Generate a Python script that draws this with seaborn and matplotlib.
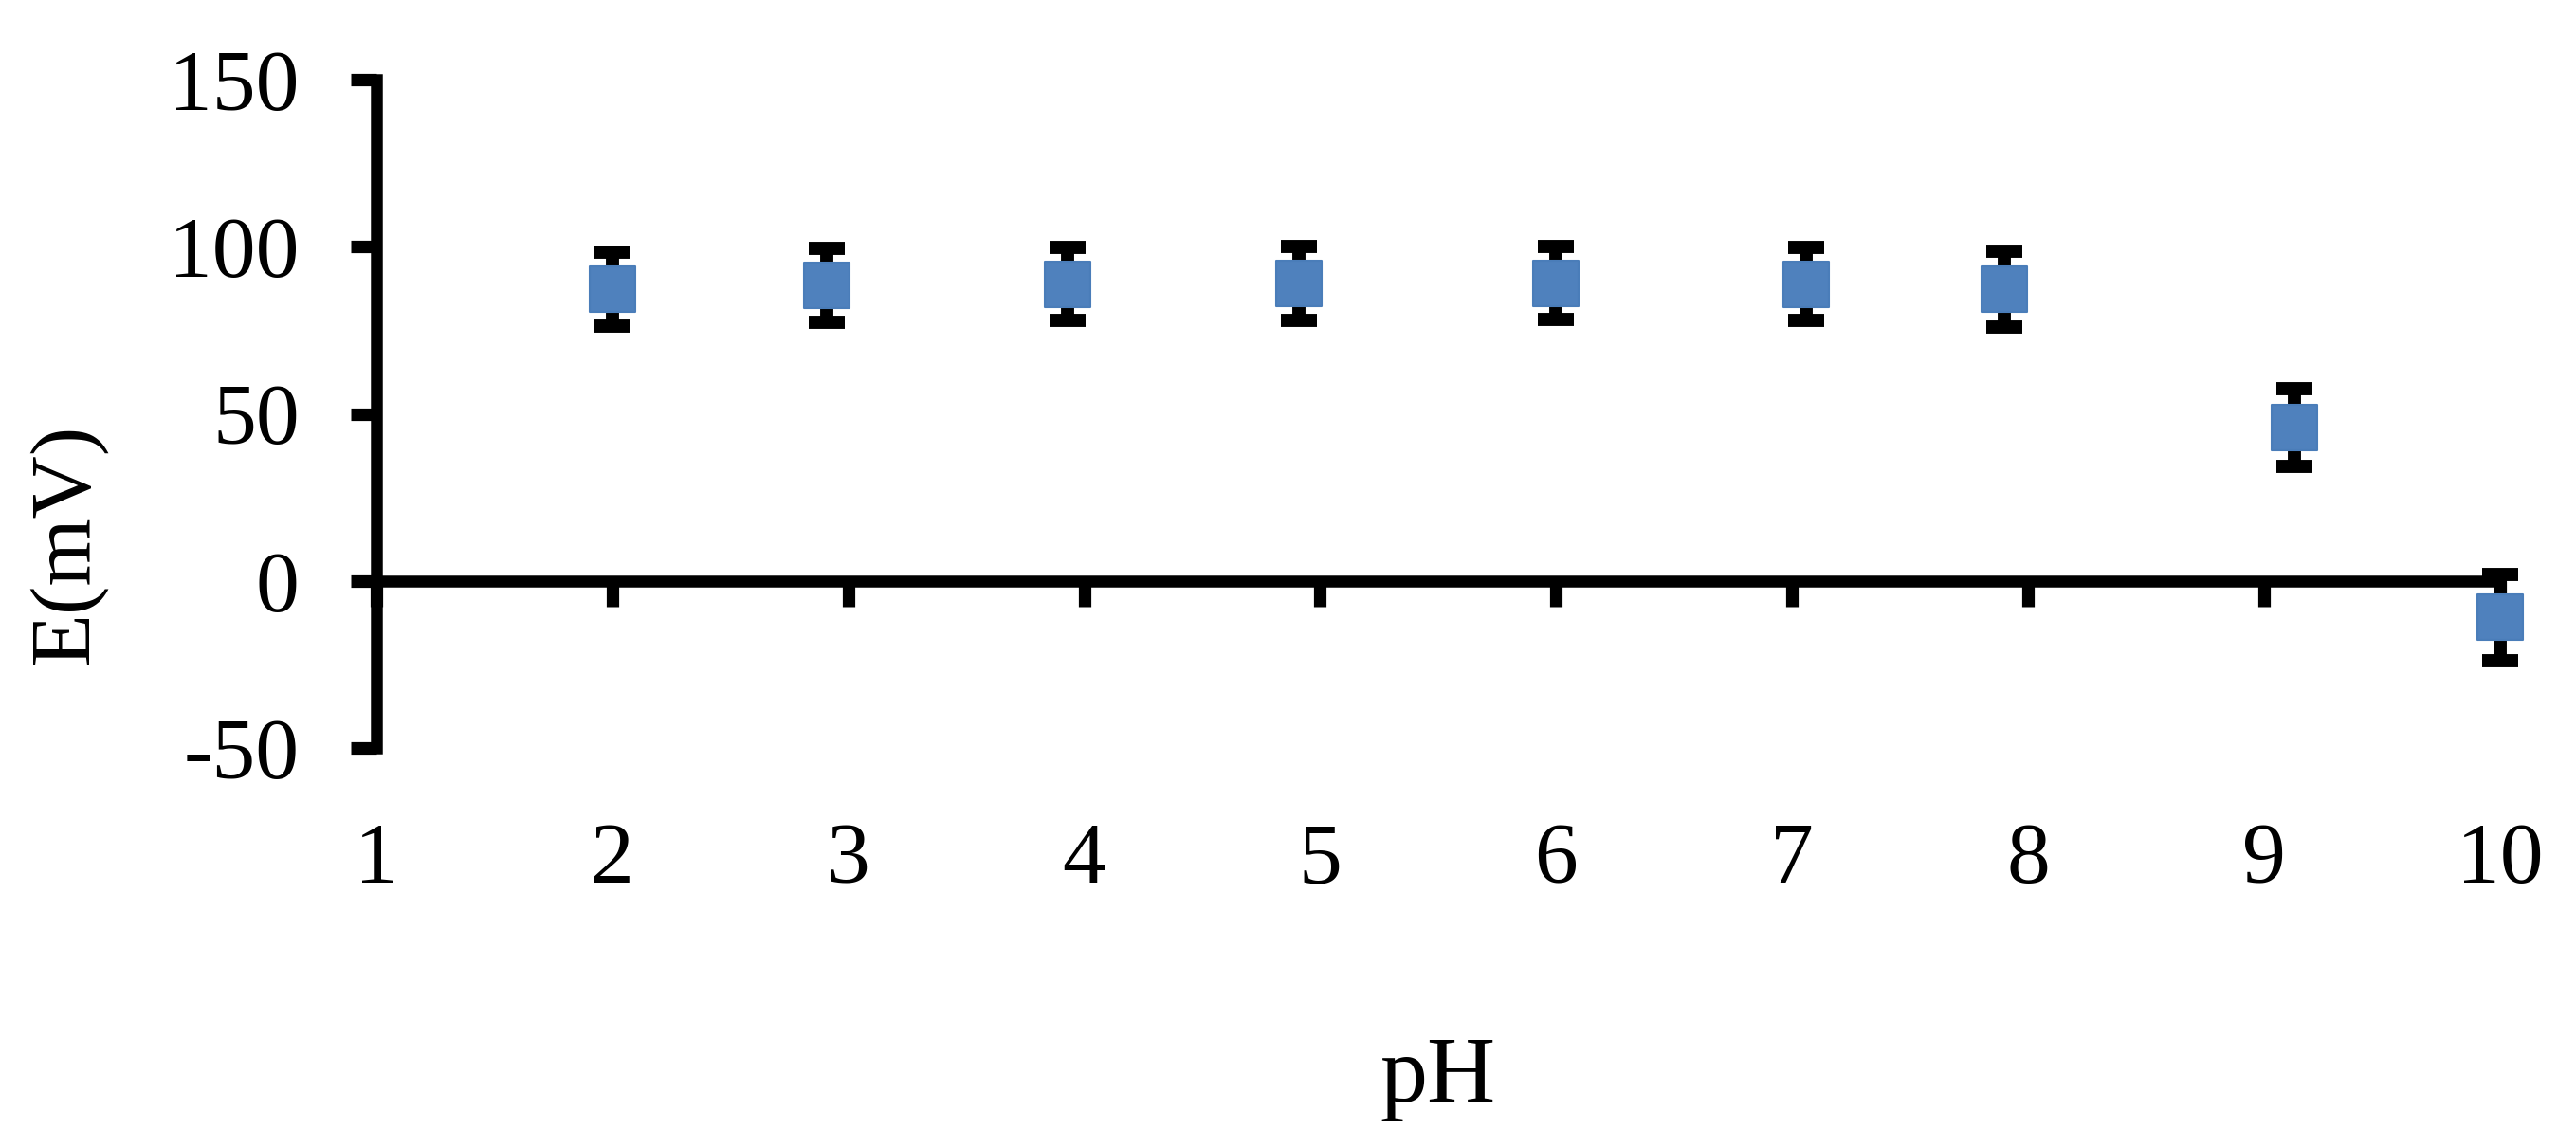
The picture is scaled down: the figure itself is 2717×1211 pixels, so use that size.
import matplotlib
matplotlib.use("Agg")
import matplotlib.pyplot as plt
import seaborn as sns

# values
ph = [2.0, 2.91, 3.93, 4.91, 6.0, 7.06, 7.90, 9.13, 10.0]
potential = [87.3, 88.5, 88.8, 89.0, 89.1, 88.8, 87.3, 45.8, -10.9]
error = [11.0, 11.0, 11.0, 11.0, 11.0, 11.0, 11.3, 11.6, 12.8]
x_ticks = [1, 2, 3, 4, 5, 6, 7, 8, 9, 10]
y_ticks = [-50, 0, 50, 100, 150]

sns.set_theme(style="white")
plt.rcParams["font.family"] = ["Liberation Serif", "DejaVu Serif"]
plt.rcParams["text.color"] = "black"
plt.rcParams["axes.unicode_minus"] = False

fig = plt.figure(figsize=(27.17, 12.11), dpi=100)
ax = fig.add_axes([0.1461, 0.3482, 0.8244, 0.5826])

ax.errorbar(ph, potential, yerr=error, fmt="none", ecolor="black", elinewidth=10,
            capsize=13.7, capthick=10, clip_on=False, zorder=3)
sns.scatterplot(x=ph, y=potential, marker="s", s=1150, color="#4F81BD",
                edgecolor="#4A7DB9", linewidth=1.5, ax=ax, zorder=4, clip_on=False)

ax.set_xlim(1, 10)
ax.set_ylim(-50, 150)
ax.set_xticks(x_ticks)
ax.set_yticks(y_ticks)
ax.spines[["top", "right"]].set_visible(False)
ax.spines["bottom"].set_position(("data", 0))
for side in ["left", "bottom"]:
    ax.spines[side].set_linewidth(9)
    ax.spines[side].set_color("black")

ax.tick_params(axis="both", which="major", bottom=True, left=True, direction="out",
               length=19.4, width=9.5, color="black", labelcolor="black", labelsize=66)
ax.tick_params(axis="x", pad=164)
ax.tick_params(axis="y", pad=39)

ax.set_xlabel("pH", fontsize=72, color="black")
ax.xaxis.set_label_coords(0.5, -0.43)
ax.set_ylabel("E(mV)", fontsize=66, color="black")
ax.yaxis.set_label_coords(-0.127, 0.305)

fig.savefig("out.png", dpi=100)
